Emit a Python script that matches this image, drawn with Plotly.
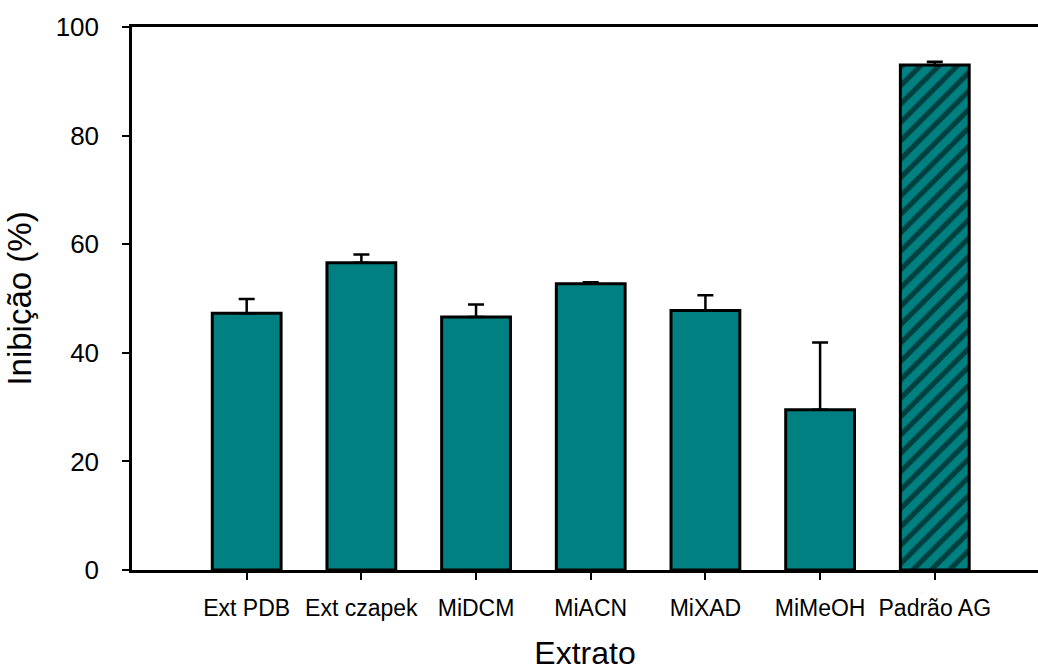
import plotly.graph_objects as go

categories = ["Ext PDB", "Ext czapek", "MiDCM", "MiACN", "MiXAD", "MiMeOH", "Padrão AG"]
values = [47.3, 56.6, 46.6, 52.7, 47.8, 29.5, 93.0]
errors = [2.6, 1.5, 2.3, 0.3, 2.8, 12.4, 0.6]
y_ticks = [0, 20, 40, 60, 80, 100]

teal = "#008080"
font_family = "Liberation Sans, Arial, sans-serif"

x_pos = list(range(len(categories)))
patterns = [""] * (len(categories) - 1) + ["/"]

fig = go.Figure()
fig.add_trace(go.Bar(
    x=x_pos,
    y=values,
    width=0.6,
    marker=dict(
        color=teal,
        line=dict(color="black", width=3),
        pattern=dict(shape=patterns, fgcolor="black", bgcolor=teal,
                     size=13, solidity=0.4, fillmode="overlay"),
    ),
    error_y=dict(type="data", array=errors, arrayminus=[0] * len(errors),
                 symmetric=False, color="black", thickness=2.5, width=8),
    showlegend=False,
))

fig.update_layout(
    width=1038, height=671,
    margin=dict(l=132, r=0, t=27, b=101),
    paper_bgcolor="white", plot_bgcolor="white",
    font=dict(family=font_family, color="black"),
    bargap=0.4,
)
fig.update_xaxes(
    range=[-1, 6.9],
    tickmode="array", tickvals=x_pos, ticktext=categories,
    tickfont=dict(size=23),
    ticks="outside", ticklen=7, tickwidth=2, tickcolor="black",
    showline=True, linewidth=2.5, linecolor="black", mirror=True,
    showgrid=False, zeroline=False,
    title=dict(text="Extrato", font=dict(size=32), standoff=24),
    ticklabelstandoff=9,
)
fig.update_yaxes(
    range=[0, 100],
    tickmode="array", tickvals=y_ticks,
    tickfont=dict(size=26),
    ticks="outside", ticklen=7, tickwidth=2, tickcolor="black",
    showline=True, linewidth=2.5, linecolor="black",
    showgrid=False, zeroline=False,
    title=dict(text="Inibição (%)", font=dict(size=33), standoff=15),
    ticklabelstandoff=18,
)

fig.write_html(
    "out.html",
    config={"displayModeBar": False},
    post_script="document.body.style.margin='0';document.body.style.overflow='hidden';",
)
